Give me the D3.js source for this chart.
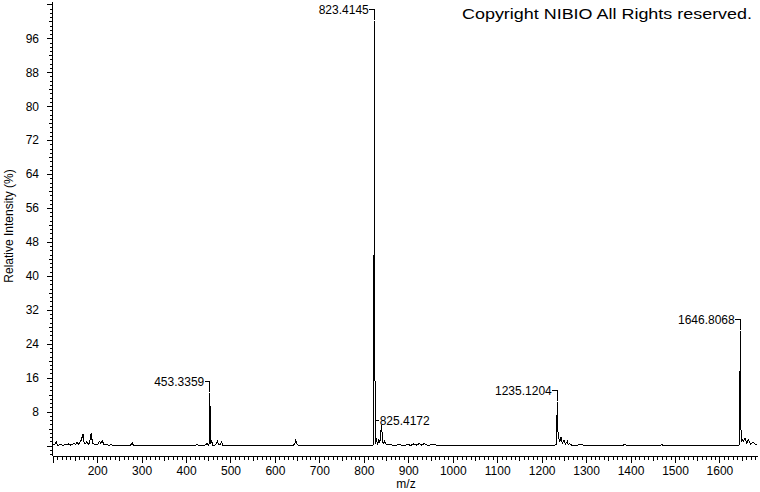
<!DOCTYPE html>
<html><head><meta charset="utf-8">
<script src="https://cdn.jsdelivr.net/npm/d3@7"></script>
<style>
body{margin:0;background:#fff}
svg{display:block}
text{font-family:"Liberation Sans",Arial,sans-serif;fill:#000}
</style>
</head><body>
<svg id="chart" width="760" height="492"></svg>
<script>
// ---- data ----
const mz = [100,104,108,111,118,124,130,135,139,144,149,152,155,158,163,168.5,171,174,177,180,183,186.5,189.5,193,198,202,205.5,208,211.5,215,220,228,232,236,272,276,279,282,420,425,428,
440,444,447,450,452.5,453.34,454.2,455.5,457.7,460,464,467,470.3,473,477,480.2,483,640,644,647,650,654,
818,822.5,823.41,824.3,825.5,827,831,833.7,836,839.7,842.6,845,847,850,856,870,880,890,900,905,912,918,925,930,936,942,960,965,
1228,1233.5,1235.12,1235.9,1237.5,1240.5,1243.5,1246.5,1250.3,1253.5,1257.7,1260,1262,1268,1280,1290,1295,1383,1387.5,1391,1467,1470.5,1474,
1640,1645.5,1646.81,1647.6,1648.8,1650,1653.7,1657.5,1661.3,1665,1670.3,1676,1683.6];
const intensity = [0.1,0.2,0.9,0.1,0.2,0.1,0.3,0.4,0.1,0.3,0.5,0.2,0.8,0.3,1.0,2.7,0.4,0.5,0.9,0.3,0.6,3.0,0.6,0.4,0.2,0.4,1.0,0.6,1.1,0.3,0.2,0.1,0.3,0,0,0.2,0.6,0,0,0.3,0,
0,0.2,0.5,0.1,0.5,12.3,8.0,0.3,1.0,0.1,0.1,0.2,1.1,0.2,0.2,0.9,0,0,0.3,1.3,0.2,0,
0,0.3,100,51,0.5,2.0,0.2,1.6,0.6,4.8,0.8,0.4,1.1,0.3,0.2,0.1,0.2,0,0.3,0,0.4,0.1,0.5,0.1,0.5,0.1,0.2,0,
0,0.3,10.3,4.8,2.3,0.9,2.0,0.6,1.4,0.3,1.0,0.2,0.5,0.1,0.1,0.3,0,0,0.4,0,0,0.3,0,
0,0.2,27.0,15.4,0.8,1.7,0.9,1.7,0.6,1.3,0.3,0.8,0.1];

const peakMz    = [823.4145, 825.4172, 453.3359, 1235.1204, 1646.8068];
const peakLabel = ["823.4145", "825.4172", "453.3359", "1235.1204", "1646.8068"];
const peakLevel = [100, 6.0, 12.3, 10.3, 27.0];
const peakSide  = ["left", "right", "left", "left", "left"];

const xMajorTicks = [100,200,300,400,500,600,700,800,900,1000,1100,1200,1300,1400,1500,1600];
const xLabelTicks = [200,300,400,500,600,700,800,900,1000,1100,1200,1300,1400,1500,1600];
const yMajorTicks = [0,8,16,24,32,40,48,56,64,72,80,88,96,104];
const yLabelTicks = [8,16,24,32,40,48,56,64,72,80,88,96];

const xTitle = "m/z";
const yTitle = "Relative Intensity (%)";
const copyright = "Copyright NIBIO All Rights reserved.";

// ---- drawing ----
const svg = d3.select("#chart");
svg.append("rect").attr("width",760).attr("height",492).attr("fill","#fff");

const x = d3.scaleLinear().domain([100, 1685]).range([52.7, 757.2]);
const y = d3.scaleLinear().domain([-2.45, 104.55]).range([456, 2]);
const axisX = 52.5, axisY = 456;

const minorX = d3.range(100, 1690, 10);
const midX = d3.range(150, 1690, 100);
const minorY = d3.range(-2, 105, 1);
const midY = d3.range(4, 105, 8);

function tickAxis(gen, vals, size, tx, ty){
  const g = svg.append("g").attr("transform",`translate(${tx},${ty})`)
    .call(gen.tickValues(vals).tickSize(size).tickSizeOuter(0).tickFormat(""));
  g.select(".domain").remove();
  g.selectAll("line").attr("stroke","#000").attr("shape-rendering","crispEdges");
  return g;
}
tickAxis(d3.axisBottom(x), minorX, 4, 0, axisY);
tickAxis(d3.axisBottom(x), midX, 5, 0, axisY);
tickAxis(d3.axisBottom(x), xMajorTicks, 7, 0, axisY);
tickAxis(d3.axisLeft(y), minorY, 3, axisX, 0);
tickAxis(d3.axisLeft(y), midY, 4, axisX, 0);
tickAxis(d3.axisLeft(y), yMajorTicks, 6, axisX, 0);

// labels via axis generators
const gxl = svg.append("g").attr("transform",`translate(0,${axisY})`)
  .call(d3.axisBottom(x).tickValues(xLabelTicks).tickSize(7).tickPadding(3).tickFormat(d3.format("d")));
gxl.select(".domain").remove();
gxl.selectAll("line").remove();
gxl.selectAll("text").attr("font-size","12px").attr("font-family",null);

const gyl = svg.append("g").attr("transform",`translate(${axisX},0)`)
  .call(d3.axisLeft(y).tickValues(yLabelTicks).tickSize(6).tickPadding(7.5).tickFormat(d3.format("d")));
gyl.select(".domain").remove();
gyl.selectAll("line").remove();
gyl.selectAll("text").attr("font-size","12px").attr("font-family",null);

// axis lines
svg.append("line").attr("x1",axisX).attr("x2",axisX).attr("y1",y(104.55)).attr("y2",axisY)
  .attr("stroke","#000").attr("shape-rendering","crispEdges");
svg.append("line").attr("x1",axisX).attr("x2",757.5).attr("y1",axisY).attr("y2",axisY)
  .attr("stroke","#000").attr("shape-rendering","crispEdges");

// spectrum
const pts = mz.map((m,i)=>[m, intensity[i]]);
const line = d3.line().x(d=>x(d[0])).y(d=>y(d[1]));
svg.append("path").datum(pts).attr("d",line).attr("fill","none")
  .attr("stroke","#000").attr("stroke-width",1).attr("shape-rendering","crispEdges");

// peak labels
peakMz.forEach((m,i)=>{
  const px = x(m), py = y(peakLevel[i]);
  if (peakSide[i] === "left"){
    const hy = py - 11.5;
    svg.append("path").attr("d",`M${px-5},${hy}H${px}V${py-1}`).attr("fill","none")
      .attr("stroke","#000").attr("shape-rendering","crispEdges");
    svg.append("text").attr("x",px-5.5).attr("y",hy+4.5).attr("text-anchor","end")
      .attr("font-size","12px").text(peakLabel[i]);
  } else {
    svg.append("path").attr("d",`M${px},${py}H${px+4}`).attr("fill","none")
      .attr("stroke","#000").attr("shape-rendering","crispEdges");
    svg.append("text").attr("x",px+4.5).attr("y",py+4.5).attr("text-anchor","start")
      .attr("font-size","12px").text(peakLabel[i]);
  }
});

// titles
svg.append("text").attr("x",406).attr("y",488).attr("text-anchor","middle")
  .attr("font-size","12px").text(xTitle);
svg.append("text").attr("transform","translate(13,226) rotate(-90)").attr("text-anchor","middle")
  .attr("font-size","12px").text(yTitle);
svg.append("text").attr("x",752).attr("y",19).attr("text-anchor","end")
  .attr("font-size","15px").attr("textLength",290).attr("lengthAdjust","spacingAndGlyphs")
  .text(copyright);
</script>
</body></html>
